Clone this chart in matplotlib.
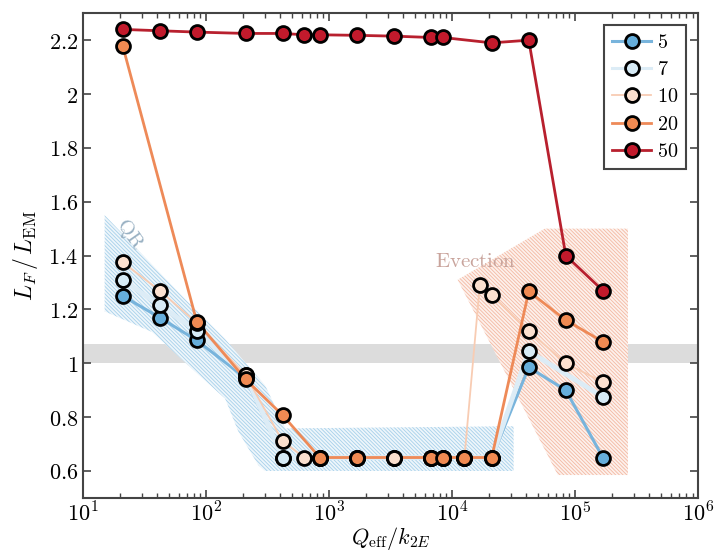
import numpy as np
import matplotlib
matplotlib.use("Agg")
import matplotlib.pyplot as plt
from matplotlib.ticker import FuncFormatter, LogLocator, FixedLocator
from matplotlib.patches import Polygon

plt.rcParams['mathtext.fontset'] = 'cm'
plt.rcParams['font.family'] = ['DejaVu Serif']
plt.rcParams['hatch.linewidth'] = 0.6

# values
q5 = [21, 42, 84, 210, 420, 840, 1680, 3360, 6720, 8400, 12600, 21000, 42000, 84000, 168000]
L5 = [1.25, 1.17, 1.085, 0.945, 0.65, 0.65, 0.65, 0.65, 0.65, 0.65, 0.65, 0.65, 0.985, 0.90, 0.65]

q7 = [21, 42, 84, 210, 420, 840, 1680, 3360, 6720, 8400, 12600, 21000, 42000, 168000]
L7 = [1.31, 1.215, 1.12, 0.955, 0.65, 0.65, 0.65, 0.65, 0.65, 0.65, 0.65, 0.65, 1.045, 0.875]

q10 = [21, 42, 84, 210, 420, 630, 840, 1680, 3360, 6720, 8400, 12600, 16800, 21000, 42000, 84000, 168000]
L10 = [1.375, 1.27, 1.15, 0.955, 0.71, 0.65, 0.65, 0.65, 0.65, 0.65, 0.65, 0.65, 1.29, 1.255, 1.12, 1.00, 0.93]

q20 = [21, 84, 210, 420, 840, 1680, 6720, 8400, 12600, 21000, 42000, 84000, 168000]
L20 = [2.18, 1.155, 0.94, 0.807, 0.65, 0.65, 0.65, 0.65, 0.65, 0.65, 1.267, 1.16, 1.08]

q50 = [21, 42, 84, 210, 420, 630, 840, 1680, 3360, 6720, 8400, 21000, 42000, 84000, 168000]
L50 = [2.24, 2.235, 2.23, 2.225, 2.225, 2.22, 2.22, 2.218, 2.215, 2.21, 2.21, 2.19, 2.20, 1.40, 1.27]

labels = ['5', '7', '10', '20', '50']

# shaded regions (data coords)
qr_x = [15, 68, 143, 303, 441, 31600, 31600, 302, 266, 183, 143, 82, 36.5, 15]
qr_y = [1.55, 1.237, 1.09, 0.917, 0.758, 0.766, 0.60, 0.60, 0.622, 0.747, 0.869, 0.968, 1.116, 1.193]
ev_x = [56700, 269000, 269000, 72400, 11100]
ev_y = [1.50, 1.50, 0.585, 0.585, 1.31]

fig = plt.figure(figsize=(7.28, 5.52), dpi=100)
ax = fig.add_axes([0.114, 0.098, 0.845, 0.878])

ax.axhspan(1.0, 1.07, color='#dcdcdc', zorder=0, lw=0)
ax.add_patch(Polygon(list(zip(qr_x, qr_y)), closed=True, facecolor='#eef6fb',
                     edgecolor='#a6d0ea', hatch='\\' * 9, lw=0, zorder=0.5))
ax.add_patch(Polygon(list(zip(ev_x, ev_y)), closed=True, facecolor='#fdf1ec',
                     edgecolor='#f3b8a2', hatch='\\' * 9, lw=0, zorder=0.5))

ax.text(24, 1.48, r'$\mathrm{QR}$', rotation=-55, color='#98b0c2', fontsize=15,
        ha='center', va='center')
ax.text(15600, 1.378, r'$\mathrm{Evection}$', color='#c9a49c', fontsize=15,
        ha='center', va='center')

series = [(q5, L5, '#66aedb', '#78b4dc', 2.2),
          (q7, L7, '#d7ebf6', '#dcecf6', 3.5),
          (q10, L10, '#fbe0cf', '#f8ccb3', 1.3),
          (q20, L20, '#f08a52', '#ee8a58', 2.0),
          (q50, L50, '#c21a2c', '#b8202e', 2.0)]
for (x, y, fc, lc, lw), lab in zip(series, labels):
    ax.plot(x, y, '-', color=lc, lw=lw, zorder=2)
    ax.plot(x, y, 'o', ms=10, mfc=fc, mec='black', mew=2, zorder=3)
    ax.plot([], [], '-o', color=lc, lw=min(lw, 2.2), ms=10, mfc=fc, mec='black', mew=2,
            label='$' + lab + '$')

ax.set_xscale('log')
ax.set_xlim(10, 1e6)
ax.set_ylim(0.5, 2.3)
ax.yaxis.set_major_locator(FixedLocator([0.6, 0.8, 1.0, 1.2, 1.4, 1.6, 1.8, 2.0, 2.2]))
ax.yaxis.set_major_formatter(FuncFormatter(lambda v, p: '$%g$' % round(v, 2)))
ax.xaxis.set_major_locator(LogLocator(base=10, numticks=10))
ax.xaxis.set_minor_locator(LogLocator(base=10, subs=np.arange(2, 10), numticks=20))
ax.xaxis.set_major_formatter(FuncFormatter(lambda v, p: '$10^{%d}$' % int(round(np.log10(v)))))

ax.tick_params(which='both', direction='in', top=True, right=True, labelsize=16,
               color='#444444')
ax.tick_params(which='major', length=6, width=1.2)
ax.tick_params(which='minor', length=3.5, width=1)
for s in ax.spines.values():
    s.set_color('#444444')
    s.set_linewidth(1.5)

ax.set_xlabel(r'$Q_{\rm eff}/k_{2E}$', fontsize=16, labelpad=-1)
ax.set_ylabel(r'$L_F\,/\,L_{\rm EM}$', fontsize=17, labelpad=6)

leg = ax.legend(loc='upper right', fontsize=14.5, fancybox=False, framealpha=1,
                edgecolor='#444444', handlelength=1.9, handletextpad=0.3,
                borderaxespad=0.6, labelspacing=0.4, borderpad=0.4)
leg.get_frame().set_linewidth(1.5)

fig.savefig('out.png', dpi=100)
